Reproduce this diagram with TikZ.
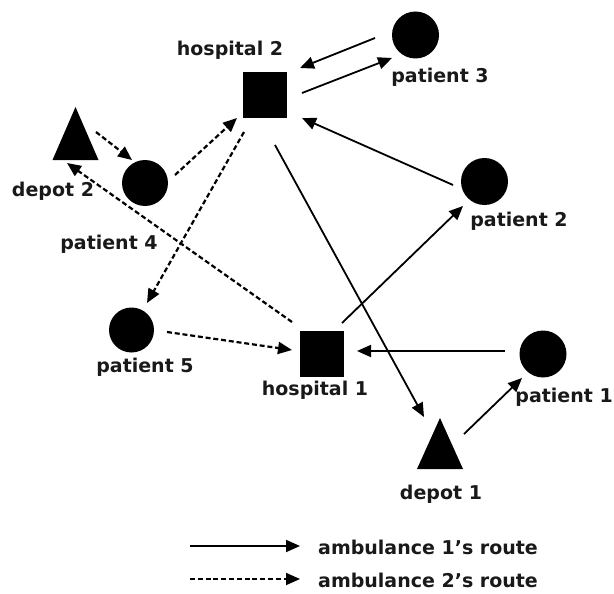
\documentclass[tikz,border=0pt]{standalone}
\usepackage{fontspec}
\setmainfont{DejaVu Sans}
\usetikzlibrary{arrows.meta,calc}
\tikzset{
  lbl/.style={font=\bfseries\fontsize{19}{21}\selectfont, inner sep=0pt, text=black!90},
  sq/.style={fill=black, minimum width=44pt, minimum height=46pt, inner sep=0pt},
  pt/.style={circle, fill=black, minimum size=47pt, inner sep=0pt},
  a1/.style={line width=1.8pt, -{Triangle[length=14pt,width=12pt]}},
  a2/.style={line width=2.2pt, dash pattern=on 5pt off 2.8pt, -{Triangle[length=14pt,width=12pt]}},
}
\begin{document}
\begin{tikzpicture}[x=1pt,y=-1pt]
\useasboundingbox (0,0) rectangle (614,594);
% shapes
\node[sq] (h2) at (265,95) {};
\node[sq] (h1) at (321.5,354) {};
\node[pt] (p3) at (415.5,35) {};
\node[pt] (p2) at (484.5,181.5) {};
\node[pt] (p1) at (543,354) {};
\node[pt, minimum size=46pt] (p4) at (145,183) {};
\node[pt, minimum size=45pt] (p5) at (131.5,330) {};
\coordinate (d2) at (75.5,160);
\coordinate (d1) at (440,469);
\fill ($(d2)+(-23,0)$) -- ($(d2)+(0,-53)$) -- ($(d2)+(23,0)$) -- cycle;
\fill ($(d1)+(-23,0)$) -- ($(d1)+(0,-51)$) -- ($(d1)+(23,0)$) -- cycle;
% labels
\node[lbl] (lh2) at (230,50) {hospital 2};
\node[lbl] (lp3) at (440,77) {patient 3};
\node[lbl] (lp2) at (519,221) {patient 2};
\node[lbl] (ld2) at (53,191) {depot 2};
\node[lbl] (lp4) at (109,244) {patient 4};
\node[lbl] (lp5) at (145,367) {patient 5};
\node[lbl] (lh1) at (315,390) {hospital 1};
\node[lbl, anchor=east] (lp1) at (613,397) {patient 1};
\node[lbl] (ld1) at (441,494) {depot 1};
% ambulance 1
\draw[a1] ($(p3)+(-40.5,3)$) -- ($(h2)+(35,-27)$);
\draw[a1] ($(h2)+(37,-2)$) -- ($(p3)+(-23.5,23)$);
\draw[a1] ($(p2)+(-31.5,3.5)$) -- ($(h2)+(37,23)$);
\draw[a1] ($(h2)+(10,50)$) -- ($(d1)+(-16,-52)$);
\draw[a1] ($(d1)+(24,-35)$) -- ($(p1)+(-21,24)$);
\draw[a1] ($(p1)+(-38,-3)$) -- ($(h1)+(35.5,-3)$);
\draw[a1] ($(h1)+(20.5,-31)$) -- ($(p2)+(-21.5,24.5)$);
% ambulance 2
\draw[a2] ($(d2)+(20.5,-28)$) -- ($(p4)+(-13,-23)$);
\draw[a2] ($(p4)+(30,-8)$) -- ($(h2)+(-28,23)$);
\draw[a2] ($(h2)+(-21,37)$) -- ($(p5)+(15.5,-27)$);
\draw[a2] ($(p5)+(35.5,2)$) -- ($(h1)+(-29.5,-4)$);
\draw[a2] ($(h1)+(-29.5,-32)$) -- ($(d2)+(-8.5,3)$);
% legend
\coordinate (ls1) at (190,546);
\coordinate (le1) at (300,546);
\coordinate (ls2) at (190,579);
\coordinate (le2) at (300,579);
\draw[a1] (ls1) -- (le1);
\draw[a2, line width=1.8pt] (ls2) -- (le2);
\node[lbl, anchor=west] (t1) at (318,547) {ambulance 1’s route};
\node[lbl, anchor=west] (t2) at (318,580) {ambulance 2’s route};
\end{tikzpicture}
\end{document}
